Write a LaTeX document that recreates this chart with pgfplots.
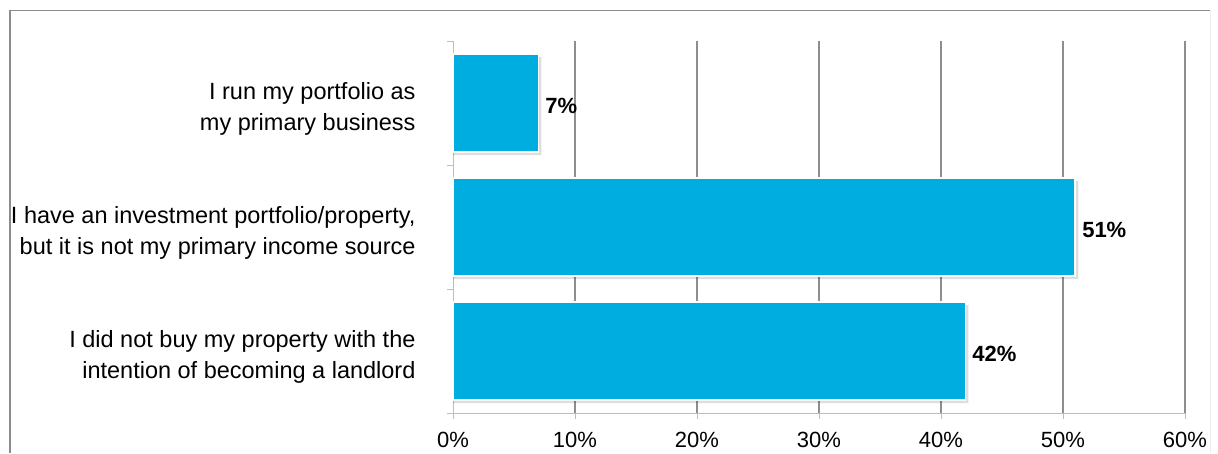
\documentclass[border=0pt]{standalone}
\usepackage{pgfplots}
\pgfplotsset{compat=1.18}
\usepackage{fontspec}
\setmainfont{Liberation Sans}
\definecolor{barblue}{HTML}{00ADE1}
\definecolor{gridgray}{HTML}{8E8E8E}
\definecolor{axgray}{HTML}{BDBDBD}
\begin{document}
\begin{tikzpicture}[x=1pt,y=1pt]
\useasboundingbox (0,0) rectangle (1218,453);
\draw[line width=2pt, color=black!45] (10,0) -- (10,442);
\draw[line width=1pt, color=black!45] (9,442) -- (1210,442);
\draw[line width=1pt, color=black!7] (1210,442) -- (1210,0);
\begin{axis}[
  /pgf/number format/assume math mode=true,
  at={(453pt,40pt)}, anchor=south west,
  width=732pt, height=372pt, scale only axis,
  xmin=0, xmax=60, ymin=-0.5, ymax=2.5,
  axis x line*=bottom, axis y line*=left,
  axis line style={-, draw=axgray, line width=1pt},
  tick align=outside,
  major tick length=6pt,
  tick style={draw=axgray, line width=1pt},
  xtick={10,20,30,40,50,60},
  extra x ticks={0},
  extra x tick style={grid=none},
  xticklabel={\pgfmathprintnumber{\tick}\%},
  extra x tick labels={0\%},
  xticklabel style={font=\fontsize{22}{26}\selectfont, yshift=-10pt},
  xmajorgrids=true,
  major grid style={draw=gridgray, line width=2.2pt},
  ytick={-0.5,0.5,1.5,2.5},
  yticklabels={},
  extra y ticks={0,1,2},
  extra y tick style={major tick length=0pt, yticklabel style={align=right, font=\fontsize{23.5}{31}\selectfont, xshift=-34pt, yshift=-6pt}},
  extra y tick labels={{I did not buy my property with the\\intention of becoming a landlord},{I have an investment portfolio/property,\\but it is not my primary income source},{I run my portfolio as\\my primary business}},
]
\addplot[xbar, bar width=98pt, bar shift=-3pt, fill=black, fill opacity=0.13, draw=none]
  coordinates {(7.25,2) (51.25,1) (42.25,0)};
\addplot[xbar, bar width=98pt, bar shift=0pt, fill=barblue, draw=white, line width=1.5pt,
  point meta=x,
  nodes near coords={\pgfmathprintnumber{\pgfplotspointmeta}\%},
  every node near coord/.append style={font=\fontsize{22}{26}\selectfont\bfseries, anchor=west, xshift=3pt, yshift=-3pt, text=black}]
  coordinates {(7,2) (51,1) (42,0)};
\end{axis}
\end{tikzpicture}
\end{document}
